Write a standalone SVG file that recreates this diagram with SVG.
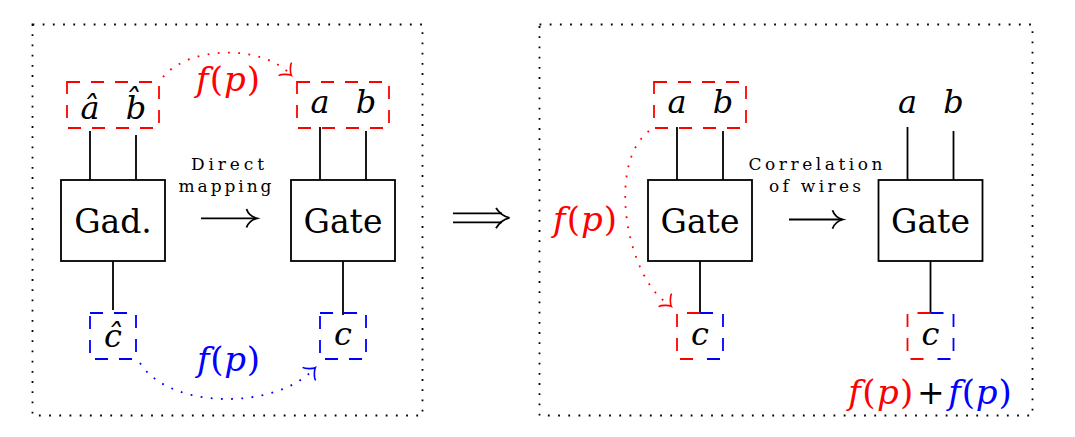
<svg xmlns="http://www.w3.org/2000/svg" width="1075" height="437" viewBox="0 0 1075 437">
<defs>
<style>
.frame{fill:none;stroke:#000;stroke-width:1.8;stroke-dasharray:1.8 8.4}
.box{fill:#fff;stroke:#000;stroke-width:1.8}
.wire{fill:none;stroke:#000;stroke-width:1.8}
.dr{fill:none;stroke:#f00;stroke-width:1.8;stroke-dasharray:13 11}
.db{fill:none;stroke:#00f;stroke-width:1.8;stroke-dasharray:13 11}
.dotr{fill:none;stroke:#f00;stroke-width:1.8;stroke-dasharray:1.8 8.4}
.dotb{fill:none;stroke:#00f;stroke-width:1.8;stroke-dasharray:1.8 8.4}
.m{font-style:italic;font-size:32px;fill:#000}
.fp{font-style:italic;font-size:34px}
.rm{font-size:33px;fill:#000}
.sm{font-size:17px;fill:#000}
.up{font-style:normal}
.red{fill:#f00}
.blue{fill:#00f}
</style>
<marker id="toR" markerUnits="userSpaceOnUse" viewBox="-10 -10 20 20" markerWidth="20" markerHeight="20" refX="0" refY="0" orient="45">
<path d="M-6.9,-9.2 C-6.3,-5.75 0,-0.6 1.7,0 C0,0.6 -6.3,5.75 -6.9,9.2" fill="none" stroke="#f00" stroke-width="1.6"/>
</marker>
<marker id="toB" markerUnits="userSpaceOnUse" viewBox="-10 -10 20 20" markerWidth="20" markerHeight="20" refX="0" refY="0" orient="-45">
<path d="M-6.9,-9.2 C-6.3,-5.75 0,-0.6 1.7,0 C0,0.6 -6.3,5.75 -6.9,9.2" fill="none" stroke="#00f" stroke-width="1.6"/>
</marker>
</defs>
<rect width="1075" height="437" fill="#fff"/>

<g id="frames">
<rect class="frame" x="32.5" y="24.5" width="390" height="391"/>
<rect class="frame" x="539.5" y="24.5" width="493" height="391"/>
</g>

<g id="connectors">
<line class="wire" x1="90" y1="131" x2="90" y2="180"/>
<line class="wire" x1="136" y1="135" x2="136" y2="180"/>
<line class="wire" x1="113" y1="261" x2="113" y2="310"/>
<line class="wire" x1="320" y1="127" x2="320" y2="180"/>
<line class="wire" x1="366" y1="131" x2="366" y2="180"/>
<line class="wire" x1="343" y1="261" x2="343" y2="315"/>
<line class="wire" x1="677" y1="127" x2="677" y2="180"/>
<line class="wire" x1="723" y1="131" x2="723" y2="180"/>
<line class="wire" x1="700" y1="261" x2="700" y2="313"/>
<line class="wire" x1="907.5" y1="127" x2="907.5" y2="180"/>
<line class="wire" x1="953.5" y1="131" x2="953.5" y2="180"/>
<line class="wire" x1="930.5" y1="261" x2="930.5" y2="313"/>
<path class="dotr" d="M163,77 C190,45 262,45 290,74" marker-end="url(#toR)"/>
<path class="dotb" d="M140,363 C170,410 275,410 314,369" marker-end="url(#toB)"/>
<path class="dotr" d="M649,131 C605,165 628,282 670,305" marker-end="url(#toR)"/>
<line class="wire" x1="201" y1="218.3" x2="256" y2="218.3"/>
<path class="wire" d="M246.5,209 C248,213.5 252,217 257,218.3 C252,219.6 248,223 246.5,227.5"/>
<line class="wire" x1="789" y1="219.5" x2="842" y2="219.5"/>
<path class="wire" d="M832.5,210.2 C834,214.7 838,218.2 843,219.5 C838,220.8 834,224.2 832.5,228.7"/>
<line class="wire" x1="453" y1="213.3" x2="502" y2="213.3"/>
<line class="wire" x1="453" y1="222.3" x2="502" y2="222.3"/>
<path class="wire" d="M496,208 C499,212.5 503,216.3 509.5,217.8 C503,219.3 499,223 496,228.3"/>
</g>

<g font-family="DejaVu Serif, Liberation Serif, serif">
<g id="n-ahat-bhat">
<rect class="dr" x="67" y="82" width="92" height="46"/>
<text class="m" x="90" y="119" text-anchor="middle">&#xE2;</text>
<text class="m" x="136" y="119" text-anchor="middle">b&#x302;</text>
</g>
<g id="n-gad">
<rect class="box" x="61" y="180" width="104" height="81"/>
<text class="rm" x="113" y="233" text-anchor="middle">Gad.</text>
</g>
<g id="n-chat">
<rect class="db" x="90" y="313" width="46" height="46"/>
<text class="m" x="113" y="347" text-anchor="middle">&#x109;</text>
</g>
<g id="n-ab-left">
<rect class="dr" x="297" y="82" width="92" height="46"/>
<text class="m" x="320" y="113" text-anchor="middle">a</text>
<text class="m" x="366" y="113" text-anchor="middle">b</text>
</g>
<g id="n-gate-left">
<rect class="box" x="291" y="180" width="104" height="81"/>
<text class="rm" x="343" y="233" text-anchor="middle">Gate</text>
</g>
<g id="n-c-left">
<rect class="db" x="320" y="313" width="46" height="46"/>
<text class="m" x="343" y="345" text-anchor="middle">c</text>
</g>
<g id="lbl-direct">
<text class="sm" x="227.5" y="170" text-anchor="middle" textLength="73" lengthAdjust="spacing">Direct</text>
<text class="sm" x="225" y="191.5" text-anchor="middle" textLength="93" lengthAdjust="spacing">mapping</text>
</g>
<g id="lbl-fp-top">
<text class="fp red" x="196" y="91" textLength="64" lengthAdjust="spacing">f<tspan class="up">(</tspan>p<tspan class="up">)</tspan></text>
</g>
<g id="lbl-fp-bottom">
<text class="fp blue" x="197" y="371" textLength="63" lengthAdjust="spacing">f<tspan class="up">(</tspan>p<tspan class="up">)</tspan></text>
</g>
<g id="n-ab-right">
<rect class="dr" x="654" y="82" width="92" height="46"/>
<text class="m" x="677" y="113" text-anchor="middle">a</text>
<text class="m" x="723" y="113" text-anchor="middle">b</text>
</g>
<g id="n-gate-mid">
<rect class="box" x="648" y="180" width="104" height="81"/>
<text class="rm" x="700" y="233" text-anchor="middle">Gate</text>
</g>
<g id="n-c-mid">
<path class="dr" d="M700,313 H677 V359 H700"/>
<path class="db" d="M700,313 H723 V359 H700"/>
<text class="m" x="700" y="345" text-anchor="middle">c</text>
</g>
<g id="n-ab-plain">
<text class="m" x="907.5" y="113" text-anchor="middle">a</text>
<text class="m" x="953.5" y="113" text-anchor="middle">b</text>
</g>
<g id="n-gate-right">
<rect class="box" x="878.5" y="180" width="104" height="81"/>
<text class="rm" x="930.5" y="233" text-anchor="middle">Gate</text>
</g>
<g id="n-c-right">
<path class="dr" d="M930.5,313 H907.5 V359 H930.5"/>
<path class="db" d="M930.5,313 H953.5 V359 H930.5"/>
<text class="m" x="930.5" y="345" text-anchor="middle">c</text>
</g>
<g id="lbl-correlation">
<text class="sm" x="815.5" y="170" text-anchor="middle" textLength="134" lengthAdjust="spacing">Correlation</text>
<text class="sm" x="815" y="191.5" text-anchor="middle" textLength="92" lengthAdjust="spacing">of wires</text>
</g>
<g id="lbl-fp-right">
<text class="fp red" x="553" y="230.5" textLength="64" lengthAdjust="spacing">f<tspan class="up">(</tspan>p<tspan class="up">)</tspan></text>
</g>
<g id="lbl-sum">
<text class="fp red" x="848.3" y="403.5" textLength="65" lengthAdjust="spacing">f<tspan class="up">(</tspan>p<tspan class="up">)</tspan></text>
<text class="rm" x="930.8" y="403.5" text-anchor="middle" font-size="32">+</text>
<text class="fp blue" x="948.3" y="403.5" textLength="63.4" lengthAdjust="spacing">f<tspan class="up">(</tspan>p<tspan class="up">)</tspan></text>
</g>
</g>
</svg>
